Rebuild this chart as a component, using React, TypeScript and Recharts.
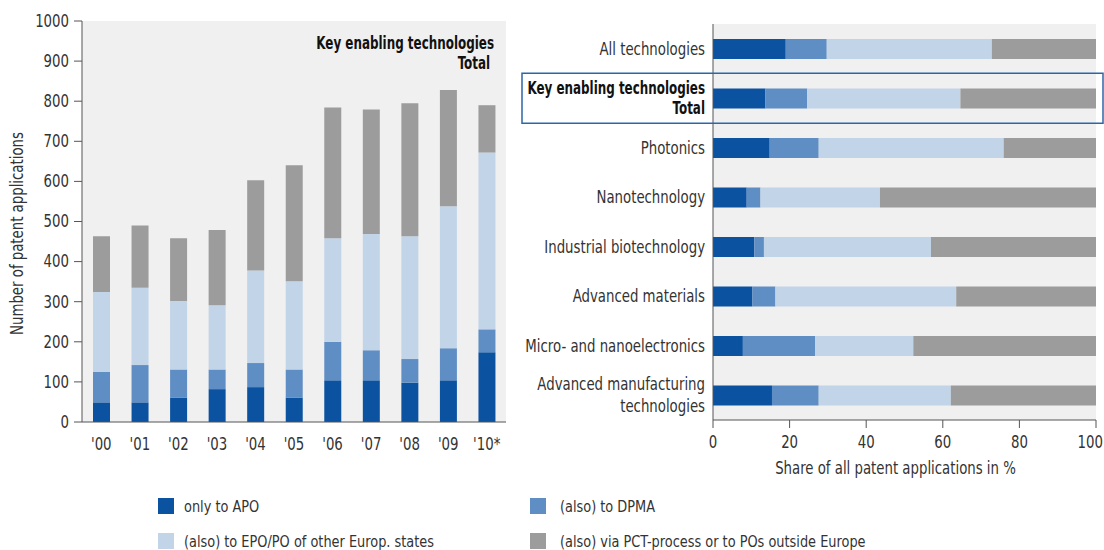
import React from 'react';
import { BarChart, Bar, XAxis, YAxis, CartesianGrid } from 'recharts';

const FONT = "'Liberation Sans Narrow', 'DejaVu Sans Condensed', 'DejaVu Sans', sans-serif";
// no real condensed face here, so squeeze text horizontally
const SX = 0.87;
const SX_BOLD = 0.78;

// left chart: yearly counts, key enabling technologies total
const years = ["'00", "'01", "'02", "'03", "'04", "'05", "'06", "'07", "'08", "'09", "'10*"];
const onlyApo = [49, 49, 61, 82, 87, 61, 104, 104, 98, 104, 174];
const alsoDpma = [76, 93, 70, 49, 60, 70, 96, 75, 59, 80, 57];
const alsoEpo = [199, 193, 171, 160, 231, 220, 258, 290, 306, 354, 441];
const alsoPct = [139, 155, 156, 188, 225, 289, 326, 310, 332, 290, 118];
const countTicks = [0, 100, 200, 300, 400, 500, 600, 700, 800, 900, 1000];

// right chart: shares in %
const techs = [
  'All technologies',
  'Key enabling technologies\nTotal',
  'Photonics',
  'Nanotechnology',
  'Industrial biotechnology',
  'Advanced materials',
  'Micro- and nanoelectronics',
  'Advanced manufacturing\ntechnologies',
];
const shareApo = [19.0, 13.7, 14.8, 8.8, 10.8, 10.3, 7.8, 15.4];
const shareDpma = [10.7, 10.9, 12.8, 3.6, 2.5, 6.0, 18.9, 12.2];
const shareEpo = [43.1, 40.0, 48.3, 31.2, 43.6, 47.2, 25.6, 34.5];
const sharePct = [27.2, 35.4, 24.1, 56.4, 43.1, 36.5, 47.7, 37.9];
const shareTicks = [0, 20, 40, 60, 80, 100];

const HIGHLIGHT = 'Key enabling technologies\nTotal';

const COLORS = {
  apo: '#0b52a0',
  dpma: '#5f8ec4',
  epo: '#c1d4e8',
  pct: '#9c9c9c',
};

const legendItems = [
  { label: 'only to APO', color: COLORS.apo },
  { label: '(also) to DPMA', color: COLORS.dpma },
  { label: '(also) to EPO/PO of other Europ. states', color: COLORS.epo },
  { label: '(also) via PCT-process or to POs outside Europe', color: COLORS.pct },
];

const yearData = years.map((year, i) => ({
  year,
  apo: onlyApo[i],
  dpma: alsoDpma[i],
  epo: alsoEpo[i],
  pct: alsoPct[i],
}));

const techData = techs.map((name, i) => ({
  name,
  apo: shareApo[i],
  dpma: shareDpma[i],
  epo: shareEpo[i],
  pct: sharePct[i],
}));

function NText({ x, y, anchor = 'middle', bold = false, children, rotate = 0 }: any) {
  const sx = bold ? SX_BOLD : SX;
  return (
    <text
      transform={`translate(${x} ${y}) rotate(${rotate}) scale(${sx} 1)`}
      x={0}
      y={0}
      textAnchor={anchor}
      dominantBaseline="central"
      fill={bold ? '#111' : '#333'}
      fontSize={17}
      fontWeight={bold ? 'bold' : 'normal'}
      fontFamily={FONT}
    >
      {children}
    </text>
  );
}

function CountTick(props: any) {
  const { x, y, payload } = props;
  return <NText x={x} y={y} anchor="end">{payload.value}</NText>;
}

function YearTick(props: any) {
  const { x, y, payload } = props;
  return <NText x={x} y={y + 11}>{payload.value}</NText>;
}

function ShareTick(props: any) {
  const { x, y, payload } = props;
  const last = payload.value === 100;
  return (
    <NText x={last ? x + 7 : x} y={y + 10} anchor={last ? 'end' : 'middle'}>
      {payload.value}
    </NText>
  );
}

function TechTick(props: any) {
  const { x, y, payload } = props;
  const lines = String(payload.value).split('\n');
  const bold = payload.value === HIGHLIGHT;
  const lh = bold ? 20 : 22;
  const startY = y - ((lines.length - 1) * lh) / 2;
  return (
    <g>
      {bold && (
        <rect x={22} y={y - 25} width={581} height={50} fill="none" stroke="#2b66a8" strokeWidth={1.5} />
      )}
      {lines.map((l, i) => (
        <NText key={i} x={x} y={startY + i * lh} anchor="end" bold={bold}>
          {l}
        </NText>
      ))}
    </g>
  );
}

function CountLabel(props: any) {
  const vb = props.viewBox || { x: 0, y: 0, width: 0, height: 0 };
  return (
    <NText x={vb.x + 17} y={vb.y + vb.height / 2 + 12} rotate={-90}>
      Number of patent applications
    </NText>
  );
}

function ShareLabel(props: any) {
  const vb = props.viewBox || { x: 0, y: 0, width: 0, height: 0 };
  return (
    <NText x={vb.x + vb.width / 2 - 9} y={vb.y + 48}>
      Share of all patent applications in %
    </NText>
  );
}

export default function App() {
  return (
    <div
      style={{
        position: 'absolute',
        left: 0,
        top: 0,
        width: 1104,
        height: 550,
        background: '#fff',
        fontFamily: FONT,
        color: '#333',
      }}
    >
      <div style={{ position: 'absolute', left: 0, top: 0 }}>
        <BarChart
          width={520}
          height={470}
          data={yearData}
          margin={{ top: 21, right: 14, left: 0, bottom: 0 }}
          barSize={17}
        >
          <CartesianGrid fill="#f0f0f0" horizontal={false} vertical={false} />
          <XAxis
            dataKey="year"
            height={48}
            interval={0}
            tickLine={false}
            tickMargin={5}
            axisLine={{ stroke: '#555' }}
            tick={<YearTick />}
          />
          <YAxis
            width={82}
            domain={[0, 1000]}
            ticks={countTicks}
            interval={0}
            tickSize={8}
            tickMargin={5}
            axisLine={{ stroke: '#555' }}
            tickLine={{ stroke: '#555' }}
            tick={<CountTick />}
            label={{ content: CountLabel }}
          />
          <Bar dataKey="apo" stackId="s" fill={COLORS.apo} isAnimationActive={false} />
          <Bar dataKey="dpma" stackId="s" fill={COLORS.dpma} isAnimationActive={false} />
          <Bar dataKey="epo" stackId="s" fill={COLORS.epo} isAnimationActive={false} />
          <Bar dataKey="pct" stackId="s" fill={COLORS.pct} isAnimationActive={false} />
        </BarChart>
      </div>

      <div
        style={{
          position: 'absolute',
          left: 0,
          top: 33,
          width: 494,
          textAlign: 'right',
          fontWeight: 'bold',
          fontSize: 17,
          lineHeight: '20px',
          color: '#111',
          transform: `scaleX(${SX_BOLD})`,
          transformOrigin: '494px 0',
        }}
      >
        <div>Key enabling technologies</div>
        <div style={{ marginRight: 5 }}>Total</div>
      </div>

      <div style={{ position: 'absolute', left: 500, top: 0 }}>
        <BarChart
          layout="vertical"
          width={604}
          height={480}
          data={techData}
          margin={{ top: 24, right: 8, left: 0, bottom: 0 }}
          barSize={20}
        >
          <CartesianGrid fill="#f0f0f0" horizontal={false} vertical={false} />
          <XAxis
            type="number"
            domain={[0, 100]}
            ticks={shareTicks}
            interval={0}
            height={60}
            tickSize={8}
            tickMargin={4}
            axisLine={{ stroke: '#555' }}
            tickLine={{ stroke: '#555' }}
            tick={<ShareTick />}
            label={{ content: ShareLabel }}
          />
          <YAxis
            type="category"
            dataKey="name"
            width={213}
            interval={0}
            tickLine={false}
            axisLine={{ stroke: '#555' }}
            tick={<TechTick />}
          />
          <Bar dataKey="apo" stackId="s" fill={COLORS.apo} isAnimationActive={false} />
          <Bar dataKey="dpma" stackId="s" fill={COLORS.dpma} isAnimationActive={false} />
          <Bar dataKey="epo" stackId="s" fill={COLORS.epo} isAnimationActive={false} />
          <Bar dataKey="pct" stackId="s" fill={COLORS.pct} isAnimationActive={false} />
        </BarChart>
      </div>

      {legendItems.map((item, i) => {
        const col = i % 2;
        const row = Math.floor(i / 2);
        return (
          <div
            key={item.label}
            style={{
              position: 'absolute',
              left: col === 0 ? 158 : 530,
              top: row === 0 ? 498 : 533,
              height: 16,
              display: 'flex',
              alignItems: 'center',
              fontSize: 16.5,
              whiteSpace: 'nowrap',
            }}
          >
            <span
              style={{
                display: 'inline-block',
                width: 16,
                height: 16,
                background: item.color,
                marginRight: col === 0 ? 10 : 14,
              }}
            />
            <span style={{ display: 'inline-block', transform: `scaleX(${SX})`, transformOrigin: '0 50%' }}>
              {item.label}
            </span>
          </div>
        );
      })}
    </div>
  );
}
